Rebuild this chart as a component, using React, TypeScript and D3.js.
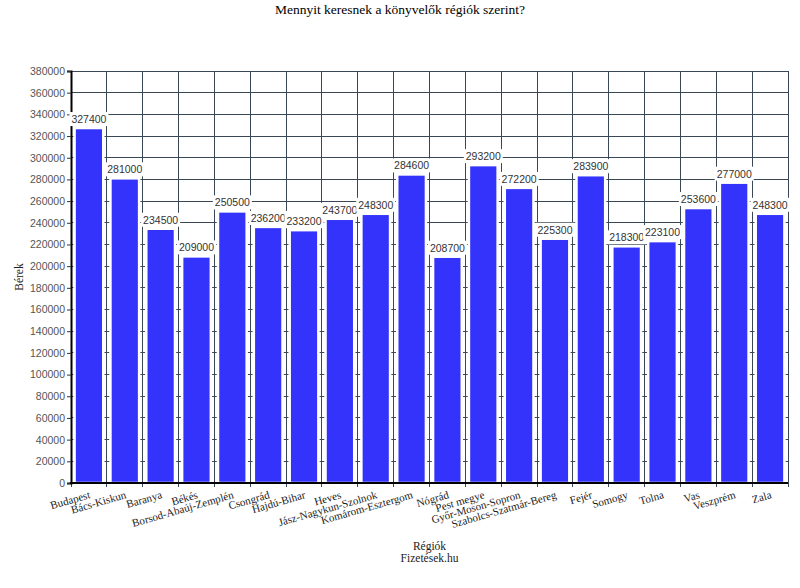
import React, { useEffect, useRef } from 'react'
import * as d3 from "d3";

const regions = [
  'Budapest', 'Bács-Kiskun', 'Baranya', 'Békés', 'Borsod-Abaúj-Zemplén',
  'Csongrád', 'Hajdú-Bihar', 'Heves', 'Jász-Nagykun-Szolnok', 'Komárom-Esztergom',
  'Nógrád', 'Pest megye', 'Győr-Moson-Sopron', 'Szabolcs-Szatmár-Bereg', 'Fejér',
  'Somogy', 'Tolna', 'Vas', 'Veszprém', 'Zala',
];
const salaries = [
  327400, 281000, 234500, 209000, 250500,
  236200, 233200, 243700, 248300, 284600,
  208700, 293200, 272200, 225300, 283900,
  218300, 223100, 253600, 277000, 248300,
];
const yTicks = d3.range(0, 380001, 20000);

const title = 'Mennyit keresnek a könyvelők régiók szerint?';
const xTitle = 'Régiók';
const source = 'Fizetések.hu';
const yTitle = 'Bérek';

const serif = "'Liberation Serif', 'Times New Roman', Times, serif";
const sans = "'Liberation Sans', Arial, sans-serif";

export default function App() {
  const svgRef = useRef<SVGSVGElement | null>(null);
  const width = 800, height = 588;
  const marginLeft = 71, marginRight = 12, marginTop = 71, marginBottom = 105;

  useEffect(() => {
    const svg = d3.select(svgRef.current);
    svg.selectAll('*').remove();

    const data = regions.map((r, i) => ({ region: r, value: salaries[i] }));

    // gridline band (no padding) and bar band
    const xGrid = d3.scaleBand().domain(regions).range([marginLeft, width - marginRight]).padding(0);
    const x = d3.scaleBand().domain(regions).range([marginLeft, width - marginRight])
      .paddingInner(0.2).paddingOuter(0.1);
    const y = d3.scaleLinear().domain([0, 380000]).range([height - marginBottom, marginTop]);

    const grid = svg.append('g').attr('stroke', '#3a4754').attr('stroke-width', 1).attr('shape-rendering', 'crispEdges');
    grid.selectAll('line.h').data(yTicks).join('line')
      .attr('class', 'h')
      .attr('x1', marginLeft).attr('x2', width - marginRight)
      .attr('y1', d => y(d)).attr('y2', d => y(d));
    const edges = regions.map(r => xGrid(r)!).concat([width - marginRight]);
    grid.selectAll('line.v').data(edges).join('line')
      .attr('class', 'v')
      .attr('x1', d => d).attr('x2', d => d)
      .attr('y1', marginTop).attr('y2', height - marginBottom + 4);

    // bars
    svg.append('g').selectAll('rect').data(data).join('rect')
      .attr('x', d => x(d.region)!)
      .attr('y', d => y(d.value))
      .attr('width', x.bandwidth())
      .attr('height', d => y(0) - y(d.value))
      .attr('fill', '#3333fb')
      .attr('stroke', '#fff')
      .attr('stroke-width', 2.5);

    // y axis
    const yAxis = svg.append('g')
      .attr('transform', `translate(${marginLeft},0)`)
      .call(d3.axisLeft(y).tickValues(yTicks).tickSize(4).tickPadding(2).tickFormat(d3.format('d')));
    yAxis.select('.domain').attr('stroke', '#000').attr('stroke-width', 2);
    yAxis.selectAll('.tick line').attr('stroke', '#333');
    yAxis.selectAll('text')
      .style('font-family', sans)
      .style('font-size', '10.5px')
      .attr('fill', '#555');

    // x axis baseline
    svg.append('line')
      .attr('x1', marginLeft - 1).attr('x2', width - marginRight)
      .attr('y1', y(0)).attr('y2', y(0))
      .attr('stroke', '#000').attr('stroke-width', 2);

    // x labels
    svg.append('g').selectAll('text').data(regions).join('text')
      .attr('transform', d => `translate(${xGrid(d)! + xGrid.bandwidth() / 2 + 2},${y(0) + 15}) rotate(-16)`)
      .attr('text-anchor', 'end')
      .style('font-family', serif)
      .style('font-size', '11px')
      .attr('fill', '#222')
      .text(d => d);

    // value labels with white boxes
    const labels = svg.append('g').selectAll('g').data(data).join('g')
      .attr('transform', d => `translate(${x(d.region)! + x.bandwidth() / 2},${y(d.value) - 2})`);
    labels.append('rect')
      .attr('x', -19.5).attr('y', -14)
      .attr('width', 39).attr('height', 14)
      .attr('fill', '#fff');
    labels.append('text')
      .attr('text-anchor', 'middle')
      .attr('y', -3)
      .style('font-family', sans)
      .style('font-size', '10.5px')
      .attr('fill', '#333')
      .text(d => String(d.value));

    // titles
    svg.append('text')
      .attr('x', width / 2).attr('y', 14)
      .attr('text-anchor', 'middle')
      .style('font-family', serif).style('font-size', '13.5px')
      .attr('fill', '#000')
      .text(title);
    const cx = (marginLeft + width - marginRight) / 2;
    svg.append('text')
      .attr('x', cx).attr('y', 550)
      .attr('text-anchor', 'middle')
      .style('font-family', serif).style('font-size', '11.5px')
      .attr('fill', '#222')
      .text(xTitle);
    svg.append('text')
      .attr('x', cx).attr('y', 562)
      .attr('text-anchor', 'middle')
      .style('font-family', serif).style('font-size', '11.5px')
      .attr('fill', '#222')
      .text(source);
    svg.append('text')
      .attr('transform', `translate(23,${(marginTop + height - marginBottom) / 2}) rotate(-90)`)
      .attr('text-anchor', 'middle')
      .style('font-family', serif).style('font-size', '11.5px')
      .attr('fill', '#222')
      .text(yTitle);
  }, []);

  return (
    <svg ref={svgRef} width={width} height={height}
      style={{ position: 'absolute', left: 0, top: 0, display: 'block', background: '#fff' }} />
  )
}
